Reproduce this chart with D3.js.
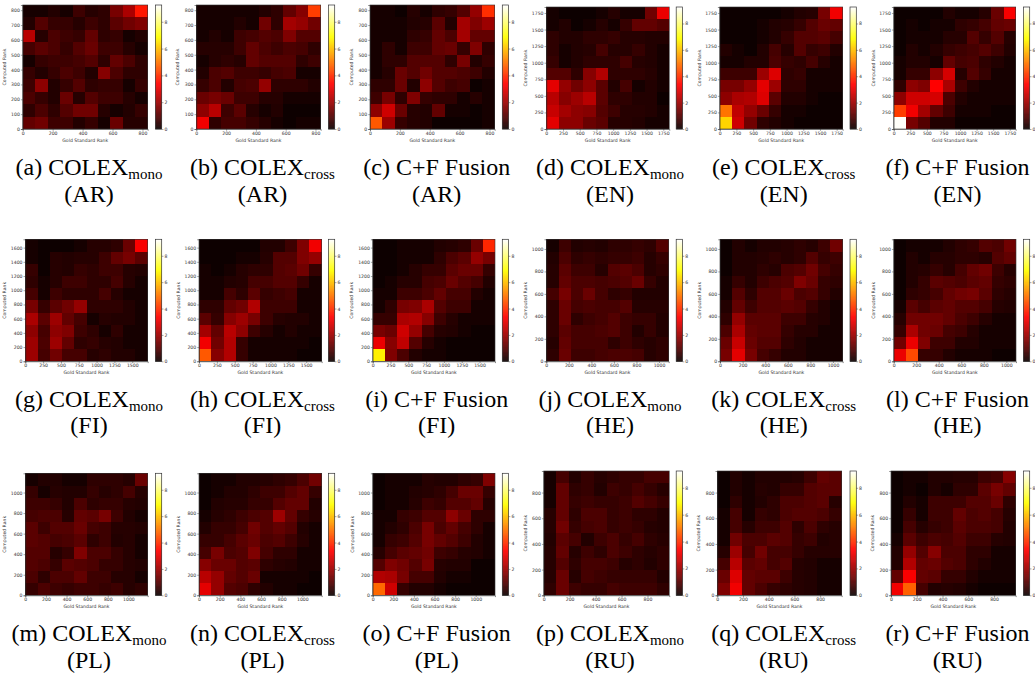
<!DOCTYPE html>
<html>
<head>
<meta charset="utf-8">
<script src="https://cdn.jsdelivr.net/npm/d3@7"></script>
<style>
  html, body { margin: 0; padding: 0; background: #fff; }
  svg { display: block; }
  .tick text, .lab { font-family: "DejaVu Sans", sans-serif; font-size: 4.6px; fill: #333; }
  .cap { font-family: "Liberation Serif", serif; font-size: 24px; fill: #000; text-anchor: middle; }
</style>
</head>
<body>
<svg width="1035" height="673"></svg>
<script>
// rows run top to bottom as in the picture, columns left to right
var ar_mono = [
  [.1,.1,.3,.2,.7,.4,.5,1.5,2.2,3.7],
  [.3,1,.6,.6,.4,.7,.5,1.1,1.4,1.6],
  [2.4,.4,.9,.7,.6,1.2,.5,.6,.1,.3],
  [.8,1.1,.9,.6,1,1.3,.7,.7,.4,.2],
  [.2,.6,.7,.7,.8,1,.5,1.2,.9,.5],
  [.6,.3,.6,.9,.7,.3,1.7,.9,.5,.5],
  [.7,1.8,.3,.6,1,.5,.6,.6,.2,.6],
  [.9,.6,.3,1.3,.4,1,.7,.7,.4,.1],
  [.5,.9,.5,1,1.4,1.4,.4,.1,.3,.6],
  [1.2,1.4,.7,.7,.3,.6,.2,1.3,.4,.4]
];
var ar_cross = [
  [.1,.1,.1,.2,.1,.3,.5,1.2,1.7,4.2],
  [.1,.1,.1,.3,.2,1.4,.5,2.1,1.9,1.4],
  [.1,.3,.1,.7,.8,1,.9,1.6,1,1],
  [.4,.4,.4,.7,1.2,.9,.7,.9,.8,.5],
  [.1,.4,.5,.4,1.2,1,1,1,.5,.7],
  [.3,.9,1,.7,.7,.6,.8,.9,.1,.2],
  [.6,.9,.3,.8,.9,1.9,.5,.5,.5,.3],
  [1.3,1.5,1.3,.7,.7,.4,.4,.2,.1,.1],
  [1.8,2.4,.7,1.1,.4,.2,.3,.05,.05,.05],
  [3.2,.5,.8,.8,.6,.4,.1,.05,.1,.1]
];
var ar_fusion = [
  [.1,.2,.05,.4,.1,.5,.6,1,1.9,4],
  [.1,.1,.2,.3,.4,1.1,.3,2.1,1.6,2],
  [.1,.1,.2,.5,.6,1.2,.9,2.1,1.2,1.2],
  [.1,.5,.1,.7,.7,1.2,1.3,.6,1.6,.5],
  [.1,.5,.5,1,1,1,.5,1.5,.3,.6],
  [.2,.4,1.3,1,1.4,1,1,.9,.7,.3],
  [.5,.5,1.3,.3,1.8,1,.7,.8,.05,.2],
  [.7,1.5,.5,1.6,.6,.5,.5,.2,.4,.2],
  [1.8,2.7,1.3,.4,.3,1.2,.2,.2,.05,.1],
  [4.6,2,.6,.4,.3,.05,.05,.05,.05,.2]
];
var en_mono = [
  [.1,.05,.05,.05,.2,.4,.2,.2,1.4,3.1],
  [.1,.3,.05,.2,.4,.1,.6,1.2,1.2,1],
  [.5,.3,.3,.5,.5,.6,.4,.4,.3,.3],
  [.5,.2,.3,.4,.8,.4,.4,.6,.3,.2],
  [.6,.1,.3,.5,.5,.5,.8,.4,.3,.1],
  [1,1,.5,1.7,2.3,.5,.5,.5,.4,.1],
  [3,1.9,1.4,1.8,1.1,.3,.8,.2,.3,.1],
  [2.4,1.7,2,2.4,1.1,.5,.5,.3,.3,.05],
  [2.6,2.1,1.8,1.7,1,.7,.4,.4,.3,.1],
  [3,1.8,1.8,1.3,1.1,.4,.4,.3,.2,.2]
];
var en_cross = [
  [.05,.05,.05,.05,.05,.1,.3,.4,1.5,3.2],
  [.05,.05,.05,.2,.3,.4,.6,1,1.3,1.2],
  [.05,.05,.05,.2,.3,.6,1,1,1.1,.8],
  [.3,.2,.05,.3,.8,.4,1,.6,.7,.3],
  [.2,.2,.3,.3,.9,.6,.5,.8,.4,.1],
  [.7,.7,.7,2,2.9,.5,.6,.2,.2,.1],
  [1.5,1.5,1.9,3,2,.5,.5,.2,.1,.1],
  [1.8,2.2,2.3,2.9,1.1,.3,.3,.2,.05,.05],
  [5,2.5,1.9,1.3,.6,.1,.1,.05,.05,.05],
  [6.3,2.7,1.4,.5,.3,.2,.05,.05,.05,.05]
];
var en_fusion = [
  [.05,.05,.05,.05,.3,.1,.2,.4,1.3,3.3],
  [.05,.2,.05,.2,.2,.5,.6,.8,1.2,1.3],
  [.05,.2,.2,.1,.4,.4,1,.6,1,.4],
  [.05,.3,.2,.3,.6,.7,.8,1,.7,.3],
  [.1,.3,.3,.2,1.2,.8,.9,.5,.3,.2],
  [.1,.6,.6,1.8,2.8,.4,1,.6,.2,.1],
  [.5,1.8,1.6,3.4,2.2,.7,.3,.1,.2,.1],
  [1.8,2.7,2.7,2.8,.9,.3,.2,.1,.1,.1],
  [4.2,3.2,2.1,1.2,.7,.1,.1,.1,.05,.05],
  [9.2,1.5,1,.3,.3,.05,.05,.05,.05,.05]
];
var fi_mono = [
  [.1,.05,.05,.05,.2,.4,.4,.5,1.3,3.3],
  [.2,.05,.4,.3,.4,.4,.7,1.2,1.5,1.1],
  [.6,.05,.4,.3,.6,.5,.7,.7,.4,.3],
  [.5,.2,.4,.7,.7,.5,.5,.8,.4,.1],
  [.8,.2,.7,.5,.5,.5,.8,.4,.2,.1],
  [1.5,.6,1.1,1.4,1.9,.5,.5,.5,.3,.2],
  [2.2,1.1,2,1.2,.8,.2,.4,.3,.3,.1],
  [1.8,.8,1.8,1.6,.7,.5,.1,.5,.2,.1],
  [2,.9,2,1.2,.5,.6,.4,.3,.1,.2],
  [2,.8,1.4,.8,.8,.4,.5,.3,.3,.1]
];
var fi_cross = [
  [.05,.05,.05,.05,.05,.3,.3,.7,1.6,3.2],
  [.05,.05,.05,.2,.2,.4,1,1,1.6,1.9],
  [.1,.05,.1,.4,.5,.5,1,1.1,1.4,.6],
  [.1,.1,.3,.4,.8,.8,1,1,.6,.2],
  [.2,.2,.8,.5,1.1,.6,.7,.8,.2,.2],
  [.5,.5,1.2,1.4,2.3,.7,.7,.7,.2,.1],
  [1.1,.6,1.7,2,1.5,.7,.4,.3,.3,.1],
  [2.1,1.2,2.4,1.8,.7,.4,.2,.3,.2,.1],
  [3.2,1.4,2.3,.6,.2,.2,.1,.1,.1,.05],
  [4.6,1.7,2.3,.6,.2,.1,.1,.1,.05,.05]
];
var fi_fusion = [
  [.05,.05,.1,.2,.1,.3,.4,.5,1.3,3.9],
  [.05,.05,.2,.2,.1,.5,.9,1.1,1.9,1.5],
  [.05,.05,.2,.4,.6,.6,1.1,1.3,1.3,.6],
  [.05,.1,.4,.4,.8,.9,1.3,1,.8,.3],
  [.2,.2,.7,.7,.9,1.2,.8,.8,.3,.1],
  [.2,.5,1.5,1.6,2.2,1,.7,.7,.2,.1],
  [.6,.6,2.2,2.3,1.7,.7,.4,.2,.2,.1],
  [1.5,1.3,2.7,1.9,.8,.4,.3,.1,.05,.05],
  [3.1,1.7,2.5,1,.4,.2,.05,.05,.05,.05],
  [6.7,1.6,.9,.3,.2,.1,.05,.05,.05,.05]
];
var he_mono = [
  [.2,.7,.3,.4,.3,.5,.5,.6,.5,1],
  [.3,.9,.5,.6,.5,.6,.6,.7,.4,.6],
  [.4,1.1,.7,.7,.4,1,1.1,.9,.4,.5],
  [.4,1.2,.9,.9,.8,.9,1,1.3,.6,.3],
  [.8,1.5,.9,1.3,.8,.5,.6,.3,.3,.3],
  [.5,1.3,.8,.9,.8,.8,1,.4,.4,.4],
  [.5,1.3,.5,.7,.8,1,.7,.6,.6,.3],
  [.5,1.1,.8,.8,.9,1,.7,.3,.6,.3],
  [.4,1.2,.8,.8,.8,.5,.7,.5,.4,.5],
  [.5,1.3,.7,.7,.8,.9,.9,.8,.4,.5]
];
var he_cross = [
  [.05,.3,.2,.3,.3,.4,.5,.4,.7,1.4],
  [.05,.3,.3,.4,.5,.4,.5,1,.6,.7],
  [.05,.3,.3,.5,.4,.9,1,1.4,.8,.6],
  [.2,.6,.3,.7,.9,1,1.6,1.3,.6,.5],
  [.2,1,.5,1,1,1.3,.9,1,.6,.3],
  [.3,1.2,.7,1,1,1.1,1,.6,.3,.2],
  [.5,1.9,1.1,1.1,1.1,.7,.7,.4,.3,.2],
  [.9,2.2,1.2,1.1,1.1,.6,.4,.4,.1,.2],
  [1.3,2.6,1.3,1,1,.5,.3,.1,.1,.1],
  [1.5,3,1.5,.8,.6,.3,.3,.1,.1,.2]
];
var he_fusion = [
  [.05,.2,.2,.2,.3,.5,.6,1,.9,1.4],
  [.05,.3,.1,.4,.4,.5,.5,.4,1,1.2],
  [.05,.3,.4,.6,.4,.8,1.2,1.4,.7,.4],
  [.05,.3,.6,1.1,1,.9,1.1,1.2,.6,.5],
  [.05,.5,.6,.8,1.2,1.4,1.5,1.1,.5,.4],
  [.2,1.1,.8,1.1,1.2,1,1,.8,.4,.3],
  [.4,1.4,1.4,1.4,1.2,.9,.7,.4,.2,.2],
  [.6,2.2,1.4,1.3,.8,.7,.4,.2,.2,.2],
  [1.4,3.1,1.6,.7,.7,.3,.3,.2,.1,.1],
  [3.1,4.4,.6,.6,.3,.2,.1,.1,.05,.05]
];
var pl_mono = [
  [.2,.3,.3,.2,.2,.5,.5,.5,.4,1.3],
  [.6,.2,.4,.3,.3,.6,.4,.5,.8,.4],
  [.7,.7,.6,.3,.9,.5,.6,.6,.4,.3],
  [.8,.9,.9,.4,1.2,1.1,1.5,.7,.3,.1],
  [1.1,.7,1,1,1.3,.8,.7,.4,.4,.3],
  [1.1,1,.8,.9,1.1,.5,.7,.3,.4,.1],
  [1,1,.4,.6,1.6,.9,.9,.6,.4,.1],
  [1,.9,.6,1.1,1,.9,.6,.6,.4,.3],
  [.9,.5,.9,.9,1.2,.7,.7,.4,.4,.2],
  [.6,.9,.7,.6,.7,.7,.6,.7,.4,.5]
];
var pl_cross = [
  [.05,.15,.1,.3,.3,.4,.5,.6,.9,1.4],
  [.05,.2,.3,.3,.5,.7,.7,1,1.2,.6],
  [.05,.3,.4,.4,.6,.6,1,1.2,1.2,.3],
  [.2,.4,.5,.7,.9,1,2,1.2,.6,.4],
  [.3,.6,.6,.8,1.4,1,1.2,1,.3,.2],
  [.6,.6,.8,1.1,1.3,.9,1,.7,.4,.1],
  [.8,1.5,.9,1,1.6,.8,.5,.5,.1,.2],
  [1.7,1.3,1.3,1,1.1,.5,.4,.3,.2,.1],
  [2.4,1.9,1.2,1,1.3,.2,.2,.2,.1,.05],
  [3,1.9,1,.9,.5,.3,.2,.1,.05,.05]
];
var pl_fusion = [
  [.05,.1,.15,.2,.4,.3,.3,.5,.6,1.6],
  [.05,.1,.1,.3,.4,.5,.8,1.3,1.3,.6],
  [.05,.1,.2,.4,.7,.6,1,1,1.2,.4],
  [.1,.1,.6,.7,1,1,1.8,1.3,.5,.5],
  [.2,.3,.5,.9,1.5,.9,1.2,.8,.5,.2],
  [.2,.6,.7,1,1.5,1.2,1,.7,.3,.2],
  [.4,.8,1.1,1.2,1.4,.7,.6,.4,.3,.1],
  [1,1.6,1.4,1,1.5,.4,.3,.3,.05,.05],
  [2.3,2.2,1.5,.8,.8,.3,.2,.1,.05,.05],
  [4.8,2.7,.6,.3,.3,.1,.05,.05,.05,.05]
];
var ru_mono = [
  [.2,.8,.3,.6,.4,.5,.6,.6,.8,.8],
  [.2,1.2,.5,.6,.3,.7,.6,.8,.6,.4],
  [.1,1.2,.6,.7,.6,.6,.7,1,.8,.6],
  [.4,1.2,.5,.9,.9,.6,.7,.5,.5,.3],
  [.4,1.4,.6,.8,.9,.6,.7,.6,.4,.3],
  [.3,1.1,.8,.3,.7,.9,.6,.8,.5,.4],
  [.4,1.2,.4,.7,.5,.9,.7,.5,.4,.5],
  [.4,1,.5,.8,.8,.7,.4,.5,.3,.5],
  [.4,1.3,.4,.8,.7,.6,.6,.6,.6,.3],
  [.5,1.3,.7,.6,.6,.8,.7,.7,.7,.5]
];
var ru_cross = [
  [.05,.3,.1,.3,.3,.3,.4,.7,1.2,1.1],
  [.05,.3,.2,.4,.3,.6,.6,1,1.1,1.1],
  [.05,.5,.2,.3,.5,.9,.9,1,1.1,.4],
  [.1,.8,.2,.6,.5,.9,1,1,.9,.6],
  [.2,.8,.4,.7,.7,1,.5,.9,.5,.4],
  [.2,1.4,.9,.9,1.1,1,.6,.7,.3,.4],
  [.4,2,.8,1.4,.8,.8,.6,.4,.4,.4],
  [.8,2.4,1.1,1.2,.8,1,.4,.3,.2,.2],
  [1.3,2.9,1.2,1.1,1.1,.7,.4,.3,.2,.2],
  [1.6,3.2,1.2,.9,.6,.5,.4,.3,.1,.1]
];
var ru_fusion = [
  [.05,.2,.15,.3,.3,.4,.4,.7,.8,1.7],
  [.05,.2,.05,.3,.2,.5,.5,1.1,1.5,1.2],
  [.05,.3,.2,.7,.7,.7,1,1,1.3,.5],
  [.05,.6,.2,.7,.7,1.2,.9,1,.8,.4],
  [.05,.8,.4,.6,.7,1.1,.9,.9,.8,.3],
  [.1,1.1,.7,.9,.8,1,.7,.7,.4,.3],
  [.3,1.9,1,1.7,.9,.9,.5,.5,.2,.2],
  [.3,2.3,1.2,1.3,1,.9,.5,.3,.1,.2],
  [1.2,3.3,1.2,1.1,.6,.6,.3,.1,.1,.1],
  [3.2,4.7,.8,.3,.4,.3,.1,.05,.05,.05]
];

var letters = "abcdefghijklmnopqr".split("");
var methods = ["mono", "cross", "fusion"];
var langs = ["AR", "EN", "FI", "HE", "PL", "RU"];
var grids = [ar_mono, ar_cross, ar_fusion, en_mono, en_cross, en_fusion,
             fi_mono, fi_cross, fi_fusion, he_mono, he_cross, he_fusion,
             pl_mono, pl_cross, pl_fusion, ru_mono, ru_cross, ru_fusion];

var rankMax = {AR: 835, EN: 1840, FI: 1717, HE: 1086, PL: 1187, RU: 968};
var xTicks = {
  AR: [0, 200, 400, 600, 800],
  EN: [0, 250, 500, 750, 1000, 1250, 1500, 1750],
  FI: [0, 250, 500, 750, 1000, 1250, 1500],
  HE: [0, 200, 400, 600, 800, 1000],
  PL: [0, 200, 400, 600, 800, 1000],
  RU: [0, 200, 400, 600, 800]
};
var yTicks = {
  AR: [0, 100, 200, 300, 400, 500, 600, 700, 800],
  EN: xTicks.EN, HE: xTicks.HE, PL: xTicks.PL, RU: xTicks.RU,
  FI: [0, 200, 400, 600, 800, 1000, 1200, 1400, 1600]
};
var barTicks = [0, 2, 4, 6, 8];
var vmax = 9.25;

// plot boxes, one per panel: left, right, top, bottom
var boxes = [
  [22.7, 147.7, 5, 129], [196.3, 320.7, 5, 129], [370, 494.7, 5, 129],
  [546.3, 669.3, 7, 129], [719.7, 842.7, 7, 129], [893.7, 1015.7, 7, 129],
  [25.3, 147.7, 239.3, 361.3], [199, 321.7, 239.3, 361.3], [372.7, 495, 239.3, 361.3],
  [546.3, 668.7, 239.3, 361.3], [720, 842.7, 239.3, 361.3], [893.7, 1016, 239.3, 361.3],
  [25.3, 147.7, 473.3, 595.3], [199, 321.7, 473.3, 595.3], [372.7, 495, 473.3, 595.3],
  [543.7, 669.3, 471, 595.3], [717.3, 841.7, 471, 595.3], [891, 1015.7, 471, 595.3]
];
var barLeft = [155.4, 328.4, 502.3, 676.2, 850, 1023.4];
var capX = [89, 262.5, 436.7, 610, 783.7, 957.5];
var capY = [[175, 202], [407, 433], [641, 668]];
var yLabelGap = {AR: 17, EN: 19, FI: 19.5, HE: 19, PL: 19, RU: 17};

// matplotlib "hot"
var hot = d3.scaleLinear()
    .domain([0, .365, .746, 1].map(function(f) { return f * vmax; }))
    .range(["#0b0000", "#ff0000", "#ffff00", "#ffffff"])
    .clamp(true);

var svg = d3.select("svg");
var defs = svg.append("defs");
defs.append("filter").attr("id", "soft")
  .append("feGaussianBlur").attr("stdDeviation", 0.4);

function style_axis(a) {
  a.selectAll("path").attr("stroke", "#222").attr("stroke-width", 0.5);
  a.selectAll("line").attr("stroke", "#222").attr("stroke-width", 0.4);
}

function draw_panel(i) {
  var lang = langs[Math.floor(i / 3)];
  var box = boxes[i];
  var col = i % 6, row = Math.floor(i / 6);
  var top = rankMax[lang];
  var step = top / 10;

  var x = d3.scaleLinear().domain([0, top]).range([box[0], box[1]]);
  var y = d3.scaleLinear().domain([0, top]).range([box[3], box[2]]);
  var g = svg.append("g");

  var cells = [];
  grids[i].forEach(function(r, ri) {
    r.forEach(function(v, ci) { cells.push({c: ci, r: 9 - ri, v: v}); });
  });

  g.append("g").attr("filter", "url(#soft)").selectAll("rect")
      .data(cells)
    .enter().append("rect")
      .attr("x", function(d) { return x(d.c * step); })
      .attr("y", function(d) { return y((d.r + 1) * step); })
      .attr("width", x(step) - x(0))
      .attr("height", y(0) - y(step))
      .attr("shape-rendering", "crispEdges")
      .attr("fill", function(d) { return hot(d.v); });

  g.append("g")
      .attr("transform", "translate(0," + box[3] + ")")
      .call(d3.axisBottom(x).tickValues(xTicks[lang]).tickSize(1.8).tickPadding(1).tickFormat(d3.format("d")))
      .call(style_axis);
  g.append("g")
      .attr("transform", "translate(" + box[0] + ",0)")
      .call(d3.axisLeft(y).tickValues(yTicks[lang]).tickSize(1.8).tickPadding(1).tickFormat(d3.format("d")))
      .call(style_axis);
  g.append("rect")
      .attr("x", box[0]).attr("y", box[2])
      .attr("width", box[1] - box[0]).attr("height", box[3] - box[2])
      .attr("fill", "none").attr("stroke", "#333").attr("stroke-width", 0.6);

  g.append("text").attr("class", "lab")
      .attr("x", (box[0] + box[1]) / 2).attr("y", box[3] + 13)
      .attr("text-anchor", "middle").text("Gold Standard Rank");
  g.append("text").attr("class", "lab")
      .attr("transform", "translate(" + (box[0] - yLabelGap[lang]) + "," + (box[2] + box[3]) / 2 + ") rotate(-90)")
      .attr("text-anchor", "middle").text("Computed Rank");

  // colour bar
  var bx = barLeft[col], bw = 6.3;
  var by = d3.scaleLinear().domain([0, vmax]).range([box[3], box[2]]);
  g.append("g").selectAll("rect")
      .data(d3.range(0, 256))
    .enter().append("rect")
      .attr("x", bx)
      .attr("y", function(d) { return by((d + 1) / 256 * vmax); })
      .attr("width", bw)
      .attr("height", (box[3] - box[2]) / 256 + 0.3)
      .attr("fill", function(d) { return hot((d + .5) / 256 * vmax); });
  g.append("g")
      .attr("transform", "translate(" + (bx + bw) + ",0)")
      .call(d3.axisRight(by).tickValues(barTicks).tickSize(1.8).tickPadding(1))
      .call(function(a) { a.select("path").remove(); })
      .call(style_axis);
  g.append("rect")
      .attr("x", bx).attr("y", box[2]).attr("width", bw).attr("height", box[3] - box[2])
      .attr("fill", "none").attr("stroke", "#333").attr("stroke-width", 0.7);

  // caption
  var t = g.append("text").attr("class", "cap").attr("x", capX[col]).attr("y", capY[row][0]);
  var m = methods[i % 3];
  if (m == "fusion") {
    t.text("(" + letters[i] + ") C+F Fusion");
  } else {
    t.append("tspan").text("(" + letters[i] + ") COLEX");
    t.append("tspan").attr("font-size", "15px").attr("dy", 3.5).text(m);
  }
  g.append("text").attr("class", "cap").attr("x", capX[col]).attr("y", capY[row][1]).text("(" + lang + ")");
}

d3.range(18).forEach(draw_panel);
</script>
</body>
</html>
